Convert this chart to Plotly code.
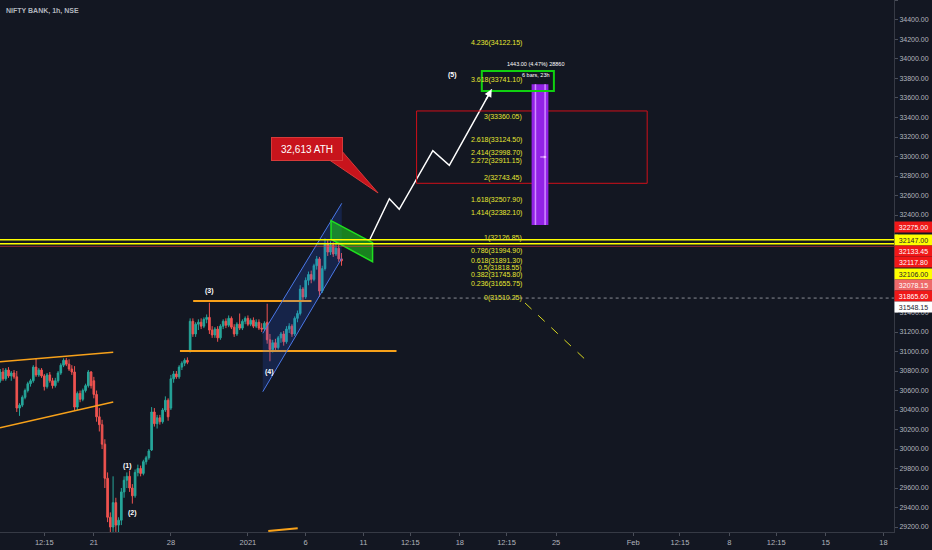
import plotly.graph_objects as go

BG = "#131722"
TXT = "#b2b5be"

# -----------------------------
# Price data: NIFTY BANK hourly bars
# bar index 0 = 21 Dec 2020 09:15, 7 bars per session
# -----------------------------
bar = list(range(-34, 91))

open_ = [
    30700, 30790, 30720, 30810, 30750, 30780, 30740, 30420, 30450, 30530,
    30600, 30670, 30700, 30840, 30760, 30810, 30750, 30640, 30760, 30700,
    30650, 30700, 30780, 30860, 30910, 30870, 30820, 30790, 30430, 30570,
    30510, 30600, 30650, 30790,
    30700, 30560, 30330, 30250, 30050, 29700, 29300, 29200, 29450, 29220,
    29270, 29560, 29680, 29720, 29600, 29520, 29760, 29800, 29750, 29870,
    29910, 29990, 30380, 30260, 30320, 30280, 30400, 30500, 30420, 30720,
    30770, 30740, 30840, 30880, 30910, 31000, 31310, 31180, 31280, 31300,
    31260, 31330, 31350, 31220, 31170, 31230, 31140, 31260, 31310, 31270,
    31340, 31250, 31180, 31280, 31240, 31310, 31340, 31280, 31320, 31260,
    31300, 31240, 31230, 31300, 31120, 31020, 31090, 31040, 31140, 31180,
    31100, 31230, 31260, 31180, 31340, 31390, 31640, 31560, 31730, 31790,
    31740, 31880, 31950, 31620, 31850, 32100, 32020, 32090, 32000, 32060,
    31950,
]
high = [
    30820, 30830, 30830, 30840, 30800, 30810, 30800, 30470, 30550, 30620,
    30690, 30720, 30860, 30930, 30830, 30830, 30770, 30780, 30790, 30730,
    30730, 30800, 30880, 30930, 30935, 30920, 30860, 30850, 30590, 30600,
    30620, 30670, 30810, 30800,
    30740, 30600, 30420, 30300, 30100, 29760, 29350, 29720, 29500, 29300,
    29600, 29720, 29760, 29780, 29640, 29790, 29840, 29830, 29890, 29930,
    30000, 30430, 30420, 30350, 30350, 30420, 30540, 30520, 30760, 30800,
    30800, 30860, 30900, 30930, 30940, 31340, 31340, 31300, 31330, 31340,
    31350, 31380, 31500, 31260, 31250, 31260, 31280, 31330, 31340, 31370,
    31360, 31280, 31300, 31390, 31330, 31360, 31370, 31340, 31350, 31330,
    31330, 31290, 31310, 31490, 31180, 31120, 31130, 31160, 31200, 31210,
    31260, 31290, 31280, 31360, 31420, 31680, 31660, 31760, 31820, 31830,
    31900, 31980, 31970, 31880, 32160, 32140, 32130, 32120, 32110, 32100,
    32010,
]
low = [
    30680, 30700, 30700, 30730, 30700, 30720, 30380, 30340, 30430, 30510,
    30580, 30640, 30680, 30740, 30740, 30730, 30600, 30620, 30680, 30620,
    30630, 30680, 30760, 30840, 30850, 30800, 30760, 30400, 30400, 30480,
    30490, 30580, 30630, 30620,
    30520, 30280, 30180, 30000, 29600, 29250, 29140, 29150, 29150, 29145,
    29220, 29500, 29600, 29560, 29440, 29500, 29720, 29720, 29730, 29840,
    29890, 29980, 30230, 30210, 30250, 30260, 30380, 30290, 30400, 30680,
    30720, 30720, 30810, 30850, 30870, 30990, 31150, 31150, 31220, 31230,
    31240, 31290, 31180, 31140, 31140, 31100, 31120, 31230, 31240, 31250,
    31230, 31150, 31160, 31220, 31220, 31280, 31260, 31260, 31240, 31240,
    31220, 31200, 31210, 31080, 30900, 30990, 31010, 31020, 31090, 31060,
    31080, 31190, 31150, 31160, 31300, 31370, 31520, 31540, 31680, 31700,
    31720, 31840, 31560, 31600, 31830, 31980, 31990, 31970, 31980, 31920,
    31880,
]
close = [
    30790, 30720, 30810, 30750, 30780, 30740, 30420, 30450, 30530, 30600,
    30670, 30700, 30840, 30760, 30810, 30750, 30640, 30760, 30700, 30650,
    30700, 30780, 30860, 30910, 30870, 30820, 30790, 30430, 30570, 30510,
    30600, 30650, 30790, 30650,
    30560, 30330, 30250, 30050, 29700, 29300, 29200, 29450, 29220, 29270,
    29560, 29680, 29720, 29600, 29520, 29760, 29800, 29750, 29870, 29910,
    29980, 30380, 30260, 30320, 30280, 30400, 30500, 30330, 30720, 30770,
    30740, 30840, 30880, 30910, 30890, 31310, 31180, 31280, 31300, 31260,
    31330, 31350, 31220, 31170, 31230, 31140, 31260, 31310, 31270, 31340,
    31250, 31180, 31280, 31240, 31310, 31340, 31280, 31320, 31260, 31300,
    31240, 31230, 31290, 31120, 31020, 31090, 31040, 31140, 31180, 31100,
    31230, 31260, 31180, 31340, 31390, 31640, 31560, 31730, 31790, 31740,
    31880, 31950, 31620, 31850, 32100, 32020, 32090, 32000, 32060, 31950,
    31930,
]

# x-axis ticks (bar index -> label)
tick_bars = [-18, 0, 28, 56, 77, 98, 115, 133, 150, 168, 196, 213, 231, 248, 266, 287]
tick_text = ["12:15", "21", "28", "2021", "6", "11", "12:15", "18", "12:15",
             "25", "Feb", "12:15", "8", "12:15", "15", "18"]

# price scale ticks; the ones hidden behind the price labels carry no text
price_ticks = [29200, 29400, 29600, 29800, 30000, 30200, 30400, 30600, 30800,
               31000, 31200, 31400, 31600, 31800, 32000, 32200, 32400, 32600,
               32800, 33000, 33200, 33400, 33600, 33800, 34000, 34200, 34400,
               34600]
hidden_ticks = [31600, 31800, 32000, 32200]

# fibonacci extension levels
fib_ratio = ["4.236", "3.618", "3", "2.618", "2.414", "2.272", "2", "1.618",
             "1.414", "1", "0.786", "0.618", "0.5", "0.382", "0.236", "0"]
fib_price = [34122.15, 33741.10, 33360.05, 33124.50, 32998.70, 32911.15,
             32743.45, 32507.90, 32382.10, 32126.85, 31994.90, 31891.30,
             31818.55, 31745.80, 31655.75, 31510.25]

# price scale labels
axis_label_price = [32275.00, 32147.00, 32133.45, 32117.80, 32106.00,
                    32078.15, 31865.60, 31548.15]
axis_label_kind = ["red", "yellow", "red", "red", "yellow", "pink", "red", "white"]

# elliott wave counts (bar, price)
wave_text = ["(1)", "(2)", "(3)", "(4)", "(5)"]
wave_bar = [12.4, 14.2, 42.2, 64.0, 130.2]
wave_price = [29826, 29344, 31620, 30790, 33836]

# projected path (bar, price)
path_bar = [100.4, 107.4, 111.0, 123.2, 129.2, 144.6]
path_price = [32154, 32567, 32458, 33059, 32910, 33689]

# -----------------------------
# Build chart
# -----------------------------
fig = go.Figure()

fig.add_trace(go.Candlestick(
    x=bar, open=open_, high=high, low=low, close=close,
    increasing=dict(line=dict(color="#26a69a", width=1), fillcolor="#26a69a"),
    decreasing=dict(line=dict(color="#ef5350", width=1), fillcolor="#ef5350"),
    whiskerwidth=0, showlegend=False, hoverinfo="skip",
))

fig.add_trace(go.Scatter(
    x=path_bar, y=path_price, mode="lines",
    line=dict(color="#ffffff", width=1.5), showlegend=False, hoverinfo="skip",
))

shapes = []
ORANGE = "#f7a11a"

# rising wedge on the left
shapes.append(dict(type="line", x0=-34.1, y0=30895, x1=7.05, y1=30992,
                   line=dict(color=ORANGE, width=1.5)))
shapes.append(dict(type="line", x0=-34.1, y0=30218, x1=7.05, y1=30482,
                   line=dict(color=ORANGE, width=1.5)))
# range box lines
shapes.append(dict(type="line", x0=36.1, y0=31518, x1=79.1, y1=31518,
                   line=dict(color=ORANGE, width=2)))
shapes.append(dict(type="line", x0=31.3, y0=31005, x1=110.0, y1=31005,
                   line=dict(color=ORANGE, width=2)))
shapes.append(dict(type="line", x0=63.4, y0=29159, x1=74.1, y1=29187,
                   line=dict(color=ORANGE, width=2)))

# blue rising channel
shapes.append(dict(
    type="path",
    path="M 61.4,31187 L 90.1,32520 L 90.1,31956 L 61.4,30588 Z",
    fillcolor="rgba(41,98,255,0.18)", line=dict(width=0), layer="above"))
shapes.append(dict(type="line", x0=61.4, y0=31187, x1=90.1, y1=32520,
                   line=dict(color="#4a78e8", width=1)))
shapes.append(dict(type="line", x0=61.4, y0=30588, x1=90.1, y1=31956,
                   line=dict(color="#4a78e8", width=1)))

# green flag
shapes.append(dict(
    type="path",
    path="M 86.2,32342 L 101.3,32116 L 101.3,31921 L 86.2,32151 Z",
    fillcolor="rgba(30,200,30,0.6)", line=dict(color="#1fe01f", width=1.5)))

# yellow horizontal levels
for p in [32147.0, 32106.0]:
    shapes.append(dict(type="line", xref="paper", x0=0, x1=1, y0=p, y1=p,
                       line=dict(color="#ffff00", width=1.5)))
shapes.append(dict(type="line", xref="paper", x0=0, x1=1, y0=32078.15, y1=32078.15,
                   line=dict(color="rgba(242,54,69,0.55)", width=1)))
# last price dotted line
shapes.append(dict(type="line", x0=82.8, x1=290.8, y0=31548.15, y1=31548.15,
                   line=dict(color="#8a8d96", width=1, dash="dot")))

# fib trend dashed line
shapes.append(dict(type="line", x0=156.7, y0=31498, x1=179.6, y1=30892,
                   line=dict(color="#d8d820", width=1, dash="dash")))

# red target zone
shapes.append(dict(type="rect", x0=117.3, x1=201.1, y0=32725, y1=33467,
                   line=dict(color="#d0101a", width=1), fillcolor="rgba(0,0,0,0)"))

# purple measure range
shapes.append(dict(type="rect", x0=159.1, x1=165.2, y0=32298, y1=33741,
                   line=dict(width=0), fillcolor="#9322e6"))
for xb in [160.5, 164.0]:
    shapes.append(dict(type="line", x0=xb, x1=xb, y0=32298, y1=33741,
                       line=dict(color="#cf8cff", width=1.5)))

# green target box
shapes.append(dict(type="rect", x0=141.0, x1=167.2, y0=33672, y1=33877,
                   line=dict(color="#10d010", width=2), fillcolor="rgba(0,0,0,0)"))

# ATH callout pointer
shapes.append(dict(
    type="path",
    path="M 85.1,32974 L 89.8,33067 L 103.3,32626 Z",
    fillcolor="#c8141c", line=dict(color="#d63a3a", width=1)))

annotations = []

annotations.append(dict(
    xref="paper", yref="paper", x=0, y=1, xanchor="left", yanchor="top",
    xshift=4, yshift=-5, text="<b>NIFTY BANK, 1h, NSE</b>", showarrow=False,
    font=dict(size=7, color=TXT)))

# fib level texts
for r, p in zip(fib_ratio, fib_price):
    annotations.append(dict(
        x=156.0, y=p, xanchor="right", yanchor="bottom", yshift=-1,
        text=f"{r}({p:.2f})", showarrow=False, borderpad=0,
        font=dict(size=7, color="#e6e632")))

# wave counts
for t, xb, p in zip(wave_text, wave_bar, wave_price):
    annotations.append(dict(x=xb, y=p, text=f"<b>{t}</b>", showarrow=False,
                            font=dict(size=7, color="#ffffff")))

# measure texts
annotations.append(dict(x=172.0, y=33949, xanchor="right", text="1443.00 (4.47%) 28860",
                        showarrow=False, font=dict(size=5.5, color="#ffffff")))
annotations.append(dict(x=166.5, y=33832, xanchor="right", text="6 bars, 23h",
                        showarrow=False, font=dict(size=5.5, color="#ffffff")))
annotations.append(dict(x=164.6, y=32995, ax=161.7, ay=32995, xref="x", yref="y",
                        axref="x", ayref="y", text="", showarrow=True, arrowhead=2,
                        arrowsize=0.6, arrowwidth=1, arrowcolor="#f3c6ff"))

# arrow head of the projected path
annotations.append(dict(x=144.6, y=33689, ax=142.2, ay=33568, xref="x", yref="y",
                        axref="x", ayref="y", text="", showarrow=True, arrowhead=2,
                        arrowsize=1, arrowwidth=1.5, arrowcolor="#ffffff"))

# ATH callout box
annotations.append(dict(x=77.6, y=33082, text="32,613 ATH", showarrow=False,
                        bgcolor="#c8141c", bordercolor="#d63a3a", borderwidth=1,
                        width=68, height=20, font=dict(size=10, color="#ffffff")))

# price-scale labels, stacked so they do not overlap
label_style = {
    "red": ("#f01818", "#ffffff"),
    "yellow": ("#ffff00", "#1e222d"),
    "pink": ("#ee6a6a", "#ffffff"),
    "white": ("#ffffff", "#1e222d"),
}
gap = 11.3 / 0.0975
prev = None
for p, kind in zip(axis_label_price, axis_label_kind):
    pos = p if prev is None else min(p, prev - gap)
    prev = pos
    bg, fg = label_style[kind]
    annotations.append(dict(
        xref="paper", x=1, xanchor="left", y=pos, yref="y",
        text=f"{p:.2f}", showarrow=False, bgcolor=bg, width=37, height=10,
        borderpad=0, font=dict(size=7, color=fg)))

price_tick_text = ["" if t in hidden_ticks else f"{t:.2f}" for t in price_ticks]

fig.update_layout(
    width=932, height=550,
    margin=dict(l=0, r=38, t=0, b=18),
    paper_bgcolor=BG, plot_bgcolor=BG,
    font=dict(family="Liberation Sans, Arial, sans-serif", color=TXT, size=7),
    showlegend=False,
    boxgap=0.15,
    shapes=shapes,
    annotations=annotations,
    xaxis=dict(
        range=[-34.1, 290.8], tickmode="array", tickvals=tick_bars, ticktext=tick_text,
        showgrid=False, zeroline=False, rangeslider=dict(visible=False),
        showline=True, linecolor="#363a45", ticks="outside", ticklen=3,
        tickcolor="#4a4e59", tickfont=dict(size=7.5, color=TXT),
    ),
    yaxis=dict(
        side="right", range=[29149, 34605], tickmode="array",
        tickvals=price_ticks, ticktext=price_tick_text,
        showgrid=False, zeroline=False, showline=True, linecolor="#363a45",
        ticks="outside", ticklen=3, tickcolor="#4a4e59",
        tickfont=dict(size=7, color=TXT),
    ),
)

# the page body has a default margin; drop it so the chart fills the window
fig.write_html(
    "out.html",
    config={"displayModeBar": False},
    post_script="document.body.style.margin='0';document.body.style.background='#131722';",
)
